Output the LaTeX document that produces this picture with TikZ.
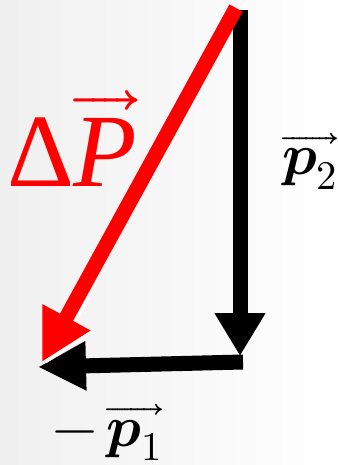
\documentclass[tikz,border=0pt]{standalone}
\usepackage{amsmath}
\usepackage{unicode-math}
\setmathfont{Latin Modern Math}
\newfontfamily\serifT{Liberation Serif}
\usetikzlibrary{arrows.meta}
\begin{document}
\begin{tikzpicture}[x=1pt,y=-1pt,
  vec/.style={line width=15pt, line cap=butt},
  lbl/.style={inner sep=0pt, outer sep=0pt}]
\useasboundingbox (0,0) rectangle (337,465);
\shade[left color=black!6, right color=white] (0,0) rectangle (337,465);
\coordinate (A) at (240,10);
\coordinate (B) at (240,356);
\coordinate (Bs) at (243,362);
\coordinate (C) at (38,367);
\coordinate (R0) at (236,8);
\coordinate (R1) at (42,362);
\coordinate (Rm) at (84,294);
\coordinate (R1w) at (46,364);
\draw[vec, -{Triangle[length=43pt,width=48pt]}] (A) -- (B);
\draw[vec, -{Triangle[length=48pt,width=46pt]}] (Bs) -- (C);
\draw[vec, white, -{Triangle[length=51pt,width=51pt]}] (Rm) -- (R1w);
\draw[vec, red, -{Triangle[length=51pt,width=51pt]}] (R0) -- (R1);
\node[lbl, red, anchor=base west, font=\serifT\fontsize{104}{104}\selectfont] (dP) at (7,186) {$\text{Δ}\overrightarrow{\text{\itshape P}}$};
\node[lbl, anchor=base west, font=\fontsize{58}{58}\selectfont] (p2) at (282,175) {$\overrightarrow{\symbfit{p}_{2}}$};
\node[lbl, anchor=base west, font=\fontsize{58}{58}\selectfont] (p1) at (52,446) {$-\,\overrightarrow{\symbfit{p}_{1}}$};
\end{tikzpicture}
\end{document}
